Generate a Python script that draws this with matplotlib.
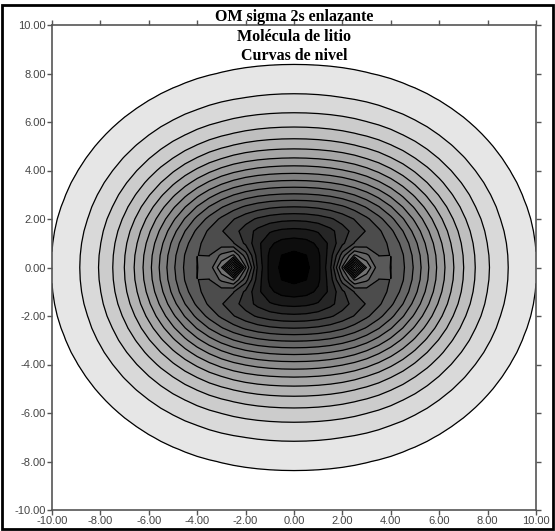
import numpy as np
import matplotlib.pyplot as plt
from matplotlib.patches import Rectangle

# Li2 sigma 2s bonding orbital: two Slater 2s functions r*exp(-zeta*r)
nucleus_x = [-2.5, 2.5]
nucleus_y = [0.0, 0.0]
zeta = 0.65
grid_step = 0.5

# contour levels (outermost to innermost)
levels = [0.06, 0.11, 0.16, 0.21, 0.26, 0.31, 0.36, 0.41, 0.46, 0.51,
          0.56, 0.61, 0.66, 0.71, 0.76, 0.81, 0.86, 0.91, 0.96]
top_level = 1.0

ticks = [-10, -8, -6, -4, -2, 0, 2, 4, 6, 8, 10]
title_lines = ['OM sigma 2s enlazante', 'Molécula de litio', 'Curvas de nivel']

g = np.arange(-10, 10 + grid_step / 2, grid_step)
X, Y = np.meshgrid(g, g)
F = np.zeros_like(X)
for nx, ny in zip(nucleus_x, nucleus_y):
    r = np.sqrt((X - nx) ** 2 + (Y - ny) ** 2)
    F += r * np.exp(-zeta * r)

n_fill = len(levels)
grays = [str(v) for v in np.linspace(0.9, 0.0, n_fill)]

fig = plt.figure(figsize=(5.55, 5.31), dpi=100)
ax = fig.add_axes([52 / 555, 1 - 510 / 531, 484 / 555, 485 / 531])

ax.contourf(X, Y, F, levels=levels + [top_level], colors=grays)
ax.contour(X, Y, F, levels=levels, colors='black', linewidths=0.9)

ax.set_xlim(-10, 10)
ax.set_ylim(-10, 10)
ax.set_xticks(ticks)
ax.set_yticks(ticks)
ax.set_xticklabels(['%.2f' % t for t in ticks])
ax.set_yticklabels(['%.2f' % t for t in ticks])
ax.tick_params(axis='both', direction='out', length=3.5, width=1, pad=1,
               labelsize=8, labelcolor='#444444', color='#555555',
               top=True, right=True)
for lab in ax.get_xticklabels() + ax.get_yticklabels():
    lab.set_family(['Liberation Sans', 'DejaVu Sans'])
for sp in ax.spines.values():
    sp.set_color('#555555')
    sp.set_linewidth(1.2)

ypix = [17, 37, 56]
for txt, yp in zip(title_lines, ypix):
    fig.text(294 / 555, 1 - yp / 531, txt, ha='center', va='center',
             fontsize=11.5, fontweight='bold',
             family=['Liberation Serif', 'DejaVu Serif'])

fig.patches.append(Rectangle((1.5 / 555, 2 / 531), 551 / 555, 524 / 531,
                             transform=fig.transFigure, fill=False,
                             edgecolor='black', linewidth=2))

fig.savefig('out.png', dpi=100)
